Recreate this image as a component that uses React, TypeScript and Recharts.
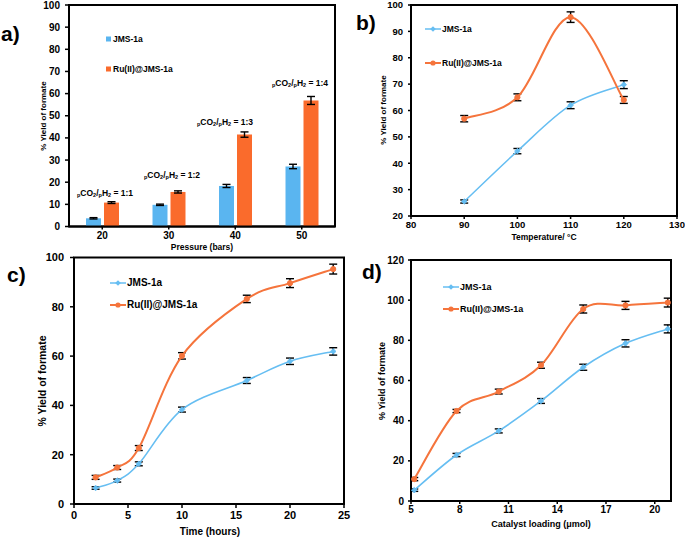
import React from 'react';
import { BarChart, Bar, LineChart, Line, XAxis, YAxis, ErrorBar, ReferenceArea, Legend } from 'recharts';

const FONT = '"Liberation Sans", Arial, Helvetica, sans-serif';
const BLUE_BAR = '#5AB5F0';
const ORANGE_BAR = '#FA6B2C';
const BLUE_LINE = '#66BEF2';
const ORANGE_LINE = '#F5743C';

// ---------- Panel a: pressure ----------
const pressureCats = ['20', '30', '40', '50'];
const pressureJms = [3.7, 9.8, 18.3, 27.1];
const pressureJmsErr = [0.3, 0.3, 0.7, 1.0];
const pressureRu = [10.8, 15.6, 41.5, 56.9];
const pressureRuErr = [0.4, 0.5, 1.2, 1.8];
const ratioLabels = ['1:1', '1:2', '1:3', '1:4'];
const pressureTicksY = [0, 10, 20, 30, 40, 50, 60, 70, 80, 90, 100];

// ---------- Panel b: temperature ----------
const temps = [90, 100, 110, 120];
const tempJms = [25.5, 44.6, 62.0, 69.8];
const tempJmsErr = [0.6, 1.0, 1.3, 1.5];
const tempRu = [56.9, 65.0, 95.4, 64.0];
const tempRuErr = [1.2, 1.3, 2.0, 1.3];
const tempTicksX = [80, 90, 100, 110, 120, 130];
const tempTicksY = [20, 30, 40, 50, 60, 70, 80, 90, 100];

// ---------- Panel c: time ----------
const times = [2, 4, 6, 10, 16, 20, 24];
const timeJms = [6.5, 9.5, 16.3, 38.3, 50.1, 57.9, 61.9];
const timeJmsErr = [0.5, 0.6, 0.8, 1.0, 1.2, 1.3, 1.5];
const timeRu = [10.8, 14.8, 22.7, 60.1, 83.2, 89.6, 95.3];
const timeRuErr = [0.8, 0.8, 1.0, 1.3, 1.5, 1.8, 2.0];
const timeTicksX = [0, 5, 10, 15, 20, 25];
const timeTicksY = [0, 20, 40, 60, 80, 100];

// ---------- Panel d: catalyst loading ----------
const loadings = [5.2, 7.8, 10.4, 13.0, 15.6, 18.2, 20.8];
const loadJms = [5.4, 22.9, 34.9, 49.8, 66.6, 78.5, 85.7];
const loadJmsErr = [0.6, 0.8, 1.0, 1.2, 1.5, 1.8, 2.0];
const loadRu = [10.9, 44.8, 54.5, 67.6, 95.6, 97.4, 98.8];
const loadRuErr = [0.8, 0.8, 1.2, 1.5, 2.0, 2.0, 2.2];
const loadTicksX = [5, 8, 11, 14, 17, 20];
const loadTicksY = [0, 20, 40, 60, 80, 100, 120];

const seriesNames = ['JMS-1a', 'Ru(II)@JMS-1a'];

const pressureData = pressureCats.map((p, i) => ({
  p, jms: pressureJms[i], jmsErr: pressureJmsErr[i], ru: pressureRu[i], ruErr: pressureRuErr[i],
}));
const tempData = temps.map((x, i) => ({ x, jms: tempJms[i], jmsErr: tempJmsErr[i], ru: tempRu[i], ruErr: tempRuErr[i] }));
const timeData = times.map((x, i) => ({ x, jms: timeJms[i], jmsErr: timeJmsErr[i], ru: timeRu[i], ruErr: timeRuErr[i] }));
const loadData = loadings.map((x, i) => ({ x, jms: loadJms[i], jmsErr: loadJmsErr[i], ru: loadRu[i], ruErr: loadRuErr[i] }));

// Excel-like smoothed line (Catmull-Rom through points)
const excelCurve: any = (context: any) => {
  let pts: number[][] = [];
  return {
    areaStart() {},
    areaEnd() {},
    lineStart() { pts = []; },
    point(x: number, y: number) { pts.push([+x, +y]); },
    lineEnd() {
      const n = pts.length;
      if (!n) return;
      context.moveTo(pts[0][0], pts[0][1]);
      for (let i = 0; i < n - 1; i++) {
        const p0 = pts[Math.max(0, i - 1)];
        const p1 = pts[i];
        const p2 = pts[i + 1];
        const p3 = pts[Math.min(n - 1, i + 2)];
        const c1x = p1[0] + (p2[0] - p0[0]) / 6;
        const c1y = p1[1] + (p2[1] - p0[1]) / 6;
        const c2x = p2[0] - (p3[0] - p1[0]) / 6;
        const c2y = p2[1] - (p3[1] - p1[1]) / 6;
        context.bezierCurveTo(c1x, c1y, c2x, c2y, p2[0], p2[1]);
      }
    },
  };
};

const W = 685;
const H = 539;

// plot boxes in page coordinates [x0, y0, x1, y1]
function marginsFor(x0: number, y0: number, x1: number, y1: number) {
  return { left: x0 - 1, top: y0, right: W - x1, bottom: H - 1 - y1 };
}

const axisLine = { stroke: '#000', strokeWidth: 2 };
const tickLine = { stroke: '#000', strokeWidth: 1.5 };
const tickStyle = (fs: number) => ({ fill: '#000', fontSize: fs, fontWeight: 700, fontFamily: FONT });

const BlueDot = (props: any) => {
  const { cx, cy, index } = props;
  if (cx == null || cy == null) return <g key={`bd${index}`} />;
  const r = 2.8;
  return <path key={`bd${index}`} d={`M${cx},${cy - r}L${cx + r},${cy}L${cx},${cy + r}L${cx - r},${cy}Z`} fill={BLUE_LINE} stroke={BLUE_LINE} strokeWidth={0.8} />;
};
const OrangeDot = (props: any) => {
  const { cx, cy, index } = props;
  if (cx == null || cy == null) return <g key={`od${index}`} />;
  return <circle key={`od${index}`} cx={cx} cy={cy} r={2.6} fill={ORANGE_LINE} stroke={ORANGE_LINE} />;
};

function LegendBlock({ fontSize, spacing, square }: { fontSize: number; spacing: number; square?: boolean }) {
  const colors = square ? [BLUE_BAR, ORANGE_BAR] : [BLUE_LINE, ORANGE_LINE];
  return (
    <div style={{ fontFamily: FONT, fontWeight: 700, fontSize, color: '#000', lineHeight: '12px' }}>
      {seriesNames.map((name, i) => (
        <div key={name} style={{ display: 'flex', alignItems: 'center', height: 12, marginTop: i === 0 ? 0 : spacing - 12 }}>
          {square ? (
            <svg width={7} height={12} style={{ display: 'block' }}>
              <rect x={1} y={3.5} width={5} height={5} fill={colors[i]} />
            </svg>
          ) : (
            <svg width={16} height={12} style={{ display: 'block' }}>
              <line x1={0} y1={6} x2={16} y2={6} stroke={colors[i]} strokeWidth={i === 0 ? 1.5 : 2} />
              {i === 0 ? (
                <path d="M8,3.2L10.8,6L8,8.8L5.2,6Z" fill={colors[i]} />
              ) : (
                <circle cx={8} cy={6} r={2.6} fill={colors[i]} />
              )}
            </svg>
          )}
          <span style={{ marginLeft: 1, whiteSpace: 'nowrap' }}>{name}</span>
        </div>
      ))}
    </div>
  );
}

function legendEl(left: number, top: number, fontSize: number, spacing: number, square?: boolean) {
  return (
    <Legend
      layout="vertical"
      align="center"
      verticalAlign="middle"
      wrapperStyle={{ position: 'absolute', left, top, width: 130, height: 'auto' }}
      content={() => <LegendBlock fontSize={fontSize} spacing={spacing} square={square} />}
    />
  );
}

function Ratio({ x, y, label }: { x: number; y: number; label: string }) {
  const fs = 8.5;
  const ss = 5.5;
  return (
    <text x={x} y={y} textAnchor="middle" fontFamily={FONT} fontWeight={700} fontSize={fs} fill="#000" dominantBaseline="central">
      <tspan fontSize={ss} dy={2}>p</tspan>
      <tspan dy={-2}>CO</tspan>
      <tspan fontSize={ss} dy={2}>2</tspan>
      <tspan dy={-2}>/</tspan>
      <tspan fontSize={ss} dy={2}>p</tspan>
      <tspan dy={-2}>H</tspan>
      <tspan fontSize={ss} dy={2}>2</tspan>
      <tspan dy={-2}>{` = ${label}`}</tspan>
    </text>
  );
}

function YTitle({ x, y, fs }: { x: number; y: number; fs: number }) {
  return (
    <text transform={`translate(${x},${y}) rotate(-90)`} textAnchor="middle" dominantBaseline="central" fontFamily={FONT} fontWeight={700} fontSize={fs} fill="#000">
      % Yield of formate
    </text>
  );
}
function XTitle({ x, y, fs, text }: { x: number; y: number; fs: number; text: string }) {
  return (
    <text x={x} y={y} textAnchor="middle" dominantBaseline="central" fontFamily={FONT} fontWeight={700} fontSize={fs} fill="#000">
      {text}
    </text>
  );
}
function Letter({ x, y, text }: { x: number; y: number; text: string }) {
  return (
    <text x={x} y={y} fontFamily={FONT} fontWeight={700} fontSize={21} fill="#000">{text}</text>
  );
}

const layer: React.CSSProperties = { position: 'absolute', left: 0, top: 0 };
const frame = { fill: 'none', stroke: '#000', strokeWidth: 2, fillOpacity: 0, ifOverflow: 'visible' as const };

export default function App() {
  const mA = marginsFor(69, 5, 335, 226.5);
  const mB = marginsFor(411, 5, 677, 216);
  const mC = marginsFor(74, 257.5, 344, 504);
  const mD = marginsFor(411, 260, 671, 501);
  const errProps = { stroke: '#000', strokeWidth: 1.4, width: 4 };

  return (
    <div style={{ position: 'absolute', left: 0, top: 0, width: W, height: H, background: '#fff', overflow: 'hidden' }}>
      {/* Panel a */}
      <div style={layer}>
        <BarChart width={W} height={H} data={pressureData} margin={mA} barSize={15} barGap={3}>
          <XAxis dataKey="p" type="category" height={1} axisLine={axisLine} tickLine={tickLine} tickSize={3} tickMargin={2} tick={tickStyle(10)} />
          <YAxis width={1} domain={[0, 100]} ticks={pressureTicksY} interval={0} axisLine={axisLine} tickLine={tickLine} tickSize={4} tickMargin={5} tick={tickStyle(10)} />
          <ReferenceArea y1={0} y2={100} {...frame} />
          <Bar dataKey="jms" name={seriesNames[0]} fill={BLUE_BAR} isAnimationActive={false}>
            <ErrorBar dataKey="jmsErr" {...errProps} />
          </Bar>
          <Bar dataKey="ru" name={seriesNames[1]} fill={ORANGE_BAR} isAnimationActive={false}>
            <ErrorBar dataKey="ruErr" {...errProps} />
          </Bar>
          {legendEl(105, 33, 8.5, 30, true)}
        </BarChart>
      </div>

      {/* Panel b */}
      <div style={layer}>
        <LineChart width={W} height={H} data={tempData} margin={mB}>
          <XAxis dataKey="x" type="number" domain={[80, 130]} ticks={tempTicksX} interval={0} height={1} axisLine={axisLine} tickLine={tickLine} tickSize={3} tickMargin={2} tick={tickStyle(9.5)} />
          <YAxis width={1} domain={[20, 100]} ticks={tempTicksY} interval={0} axisLine={axisLine} tickLine={tickLine} tickSize={3} tickMargin={5} tick={tickStyle(9.5)} />
          <ReferenceArea x1={80} x2={130} y1={20} y2={100} {...frame} />
          <Line dataKey="jms" name={seriesNames[0]} type={excelCurve} stroke={BLUE_LINE} strokeWidth={1.5} dot={BlueDot} activeDot={false} isAnimationActive={false}>
            <ErrorBar dataKey="jmsErr" direction="y" {...errProps} />
          </Line>
          <Line dataKey="ru" name={seriesNames[1]} type={excelCurve} stroke={ORANGE_LINE} strokeWidth={2} dot={OrangeDot} activeDot={false} isAnimationActive={false}>
            <ErrorBar dataKey="ruErr" direction="y" {...errProps} />
          </Line>
          {legendEl(425, 23, 8.5, 34)}
        </LineChart>
      </div>

      {/* Panel c */}
      <div style={layer}>
        <LineChart width={W} height={H} data={timeData} margin={mC}>
          <XAxis dataKey="x" type="number" domain={[0, 25]} ticks={timeTicksX} interval={0} height={1} axisLine={axisLine} tickLine={tickLine} tickSize={4} tickMargin={3} tick={tickStyle(11)} />
          <YAxis width={1} domain={[0, 100]} ticks={timeTicksY} interval={0} axisLine={axisLine} tickLine={tickLine} tickSize={4} tickMargin={6} tick={tickStyle(11)} />
          <ReferenceArea x1={0} x2={25} y1={0} y2={100} {...frame} />
          <Line dataKey="jms" name={seriesNames[0]} type={excelCurve} stroke={BLUE_LINE} strokeWidth={1.6} dot={BlueDot} activeDot={false} isAnimationActive={false}>
            <ErrorBar dataKey="jmsErr" direction="y" {...errProps} />
          </Line>
          <Line dataKey="ru" name={seriesNames[1]} type={excelCurve} stroke={ORANGE_LINE} strokeWidth={2} dot={OrangeDot} activeDot={false} isAnimationActive={false}>
            <ErrorBar dataKey="ruErr" direction="y" {...errProps} />
          </Line>
          {legendEl(110, 277, 10, 22)}
        </LineChart>
      </div>

      {/* Panel d */}
      <div style={layer}>
        <LineChart width={W} height={H} data={loadData} margin={mD}>
          <XAxis dataKey="x" type="number" domain={[5, 21]} ticks={loadTicksX} interval={0} height={1} axisLine={axisLine} tickLine={tickLine} tickSize={3} tickMargin={2} tick={tickStyle(10)} />
          <YAxis width={1} domain={[0, 120]} ticks={loadTicksY} interval={0} axisLine={axisLine} tickLine={tickLine} tickSize={3} tickMargin={4} tick={tickStyle(10)} />
          <ReferenceArea x1={5} x2={21} y1={0} y2={120} {...frame} />
          <Line dataKey="jms" name={seriesNames[0]} type={excelCurve} stroke={BLUE_LINE} strokeWidth={1.6} dot={BlueDot} activeDot={false} isAnimationActive={false}>
            <ErrorBar dataKey="jmsErr" direction="y" {...errProps} />
          </Line>
          <Line dataKey="ru" name={seriesNames[1]} type={excelCurve} stroke={ORANGE_LINE} strokeWidth={2} dot={OrangeDot} activeDot={false} isAnimationActive={false}>
            <ErrorBar dataKey="ruErr" direction="y" {...errProps} />
          </Line>
          {legendEl(443, 281, 9, 22)}
        </LineChart>
      </div>

      {/* text overlay */}
      <svg width={W} height={H} style={{ position: 'absolute', left: 0, top: 0, pointerEvents: 'none' }}>
        <Letter x={1} y={41} text="a)" />
        <Letter x={356} y={30} text="b)" />
        <Letter x={7} y={282} text="c)" />
        <Letter x={362} y={279} text="d)" />

        <YTitle x={43} y={116} fs={8} />
        <YTitle x={383} y={110} fs={8} />
        <YTitle x={42} y={381} fs={10.5} />
        <YTitle x={382} y={381} fs={9} />

        <XTitle x={202} y={247} fs={8.5} text="Pressure (bars)" />
        <XTitle x={544} y={237} fs={8.5} text="Temperature/ °C" />
        <XTitle x={210} y={531} fs={10} text="Time (hours)" />
        <XTitle x={541} y={524} fs={9} text="Catalyst loading (μmol)" />

        <Ratio x={105} y={193} label={ratioLabels[0]} />
        <Ratio x={172} y={175} label={ratioLabels[1]} />
        <Ratio x={225} y={122} label={ratioLabels[2]} />
        <Ratio x={300} y={83} label={ratioLabels[3]} />
      </svg>
    </div>
  );
}
